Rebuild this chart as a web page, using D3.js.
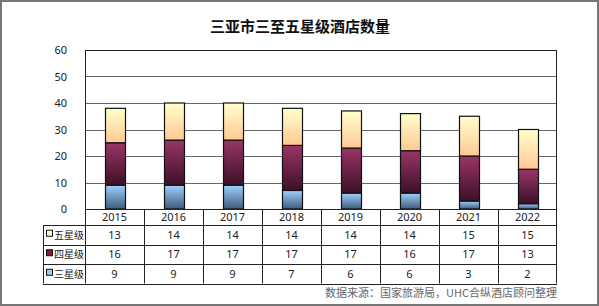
<!DOCTYPE html>
<html>
<head>
<meta charset="utf-8">
<script src="https://cdn.jsdelivr.net/npm/d3@7"></script>
<style>
  body { margin: 0; background: #fff; }
  text { font-family: "Noto Sans", "Noto Sans CJK SC", sans-serif; }
</style>
</head>
<body>
<svg id="display" width="599" height="306"></svg>
<script>
var years = ["2015", "2016", "2017", "2018", "2019", "2020", "2021", "2022"];
var threeStar = [9, 9, 9, 7, 6, 6, 3, 2];
var fourStar = [16, 17, 17, 17, 17, 16, 17, 13];
var fiveStar = [13, 14, 14, 14, 14, 14, 15, 15];
var seriesNames = ["五星级", "四星级", "三星级"];
var yTicks = [0, 10, 20, 30, 40, 50, 60];

var svg = d3.select("#display"),
  margin = {top: 50, right: 42, bottom: 97, left: 85},
  width = +svg.attr("width") - margin.left - margin.right,
  height = +svg.attr("height") - margin.top - margin.bottom;

// gradients
var defs = svg.append("defs");
var grads = [
  {id: "g3", top: "#9fd0ff", bottom: "#3f5c7c"},
  {id: "g4", top: "#9a3568", bottom: "#3c1026"},
  {id: "g5", top: "#ffffcc", bottom: "#ffc993"}
];
grads.forEach(function(d) {
  var lg = defs.append("linearGradient").attr("id", d.id)
      .attr("x1", 0).attr("y1", 0).attr("x2", 0).attr("y2", 1);
  lg.append("stop").attr("offset", "0%").attr("stop-color", d.top);
  lg.append("stop").attr("offset", "100%").attr("stop-color", d.bottom);
});

svg.append("rect")
    .attr("x", 1).attr("y", 1)
    .attr("width", 597).attr("height", 304)
    .attr("fill", "#fff")
    .attr("stroke", "#777")
    .attr("stroke-width", 2);

svg.append("text")
    .attr("x", 300).attr("y", 32)
    .attr("text-anchor", "middle")
    .attr("font-size", 15)
    .attr("font-weight", "bold")
    .attr("fill", "#111")
    .style("font-family", "'Noto Sans CJK SC', sans-serif")
    .text("三亚市三至五星级酒店数量");

var g = svg.append("g")
    .attr("transform", "translate(" + margin.left + "," + margin.top + ")");

var x = d3.scaleBand().domain(years).range([0, width]);
var y = d3.scaleLinear().domain([0, 60]).range([height, 0]);

// gridlines
g.append("g")
  .selectAll("line")
  .data(yTicks.slice(1))
  .enter().append("line")
    .attr("x1", 0).attr("x2", width)
    .attr("y1", function(d) { return Math.round(y(d)) + 0.5; })
    .attr("y2", function(d) { return Math.round(y(d)) + 0.5; })
    .attr("stroke", "#666");

g.append("rect")
    .attr("x", 0.5).attr("y", 0.5)
    .attr("width", width - 1).attr("height", height)
    .attr("fill", "none")
    .attr("stroke", "#222");

// y labels
var yAxis = g.append("g")
    .call(d3.axisLeft(y).tickValues(yTicks).tickSize(0).tickPadding(18));
yAxis.select(".domain").remove();
yAxis.selectAll("text")
    .attr("font-size", 11)
    .attr("fill", "#222")
    .style("font-family", "'Noto Sans', sans-serif");

// stacked bars
var rows = years.map(function(yr, i) {
  return {year: yr, three: threeStar[i], four: fourStar[i], five: fiveStar[i]};
});
var stack = d3.stack().keys(["three", "four", "five"]);
var layers = stack(rows);
var fills = {three: "url(#g3)", four: "url(#g4)", five: "url(#g5)"};
var barW = 20;

g.append("g")
  .selectAll("g")
  .data(layers)
  .enter().append("g")
    .attr("fill", function(d) { return fills[d.key]; })
  .selectAll("rect")
  .data(function(d) { return d; })
  .enter().append("rect")
    .attr("x", function(d) { return Math.round(x(d.data.year) + x.bandwidth() / 2 - barW / 2) + 0.5; })
    .attr("y", function(d) { return y(d[1]); })
    .attr("width", barW)
    .attr("height", function(d) { return y(d[0]) - y(d[1]); })
    .attr("stroke", "#111")
    .attr("stroke-width", 1.2);

// data table
var tbl = g.append("g").attr("transform", "translate(0," + height + ")");
var headH = 16, rowH = 19.5, legendW = 42;
var tableData = [fiveStar, fourStar, threeStar];
var legendFill = ["#ffffc0", "#7a1f48", "#9fcbf0"];

tbl.append("line")
    .attr("x1", 0).attr("x2", width)
    .attr("y1", 0.5).attr("y2", 0.5)
    .attr("stroke", "#222");
// horizontal row lines
[0, 1, 2, 3].forEach(function(r) {
  var yy = Math.round(headH + r * rowH) + 0.5;
  tbl.append("line")
      .attr("x1", -legendW).attr("x2", width)
      .attr("y1", yy).attr("y2", yy)
      .attr("stroke", "#222");
});
// vertical lines
tbl.append("line")
    .attr("x1", -legendW + 0.5).attr("x2", -legendW + 0.5)
    .attr("y1", headH).attr("y2", headH + 3 * rowH)
    .attr("stroke", "#222");
years.concat(["end"]).forEach(function(yr, i) {
  var xx = Math.round(i * x.bandwidth()) + 0.5;
  if (i === years.length) xx = width - 0.5;
  tbl.append("line")
      .attr("x1", xx).attr("x2", xx)
      .attr("y1", 0).attr("y2", headH + 3 * rowH)
      .attr("stroke", "#222");
});

tbl.selectAll(".yr")
  .data(years)
  .enter().append("text")
    .attr("class", "yr")
    .attr("x", function(d) { return x(d) + x.bandwidth() / 2; })
    .attr("y", 12)
    .attr("text-anchor", "middle")
    .attr("font-size", 11)
    .attr("fill", "#222")
    .text(function(d) { return d; });

tableData.forEach(function(vals, r) {
  var cy = headH + r * rowH + rowH / 2 + 4;
  tbl.selectAll(".v" + r)
    .data(vals)
    .enter().append("text")
      .attr("x", function(d, i) { return x(years[i]) + x.bandwidth() / 2; })
      .attr("y", cy)
      .attr("text-anchor", "middle")
      .attr("font-size", 11)
      .attr("fill", "#222")
      .text(function(d) { return d; });
  tbl.append("rect")
      .attr("x", -legendW + 3.5).attr("y", cy - 8.5)
      .attr("width", 6).attr("height", 6)
      .attr("fill", legendFill[r])
      .attr("stroke", "#111");
  tbl.append("text")
      .attr("x", -legendW + 11).attr("y", cy)
      .attr("font-size", 10)
      .attr("fill", "#222")
      .style("font-family", "'Noto Sans CJK SC', sans-serif")
      .text(seriesNames[r]);
});

svg.append("text")
    .attr("x", 557).attr("y", 297)
    .attr("text-anchor", "end")
    .attr("font-size", 11)
    .attr("fill", "#666")
    .style("font-family", "'Noto Sans CJK SC', sans-serif")
    .text("数据来源：国家旅游局，UHC合纵酒店顾问整理");
</script>
</body>
</html>
